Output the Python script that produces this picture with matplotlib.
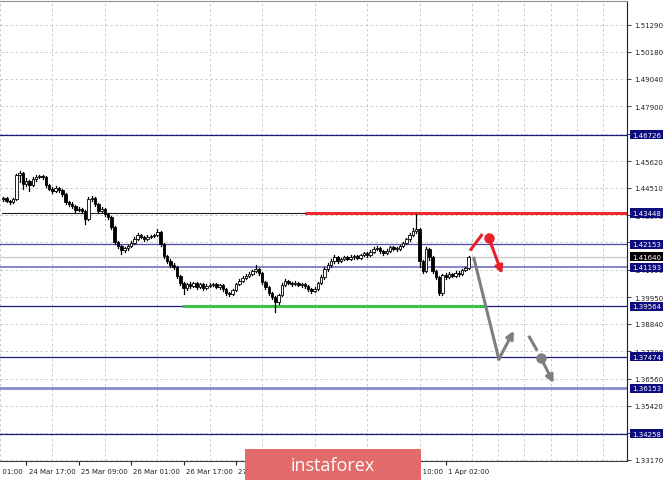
import matplotlib.pyplot as plt
from matplotlib.patches import Rectangle
import matplotlib.transforms as mtransforms

# H1 candles, bar 0 = 24 Mar 10:00 (open of each bar = close of the previous one)
first_open = 1.4402
closes = [1.4408, 1.4395, 1.4391, 1.4404, 1.4504, 1.4512, 1.4466, 1.4479, 1.4462, 1.4487,
          1.4495, 1.4499, 1.4495, 1.4462, 1.4446, 1.4437, 1.4450, 1.4441, 1.4425, 1.4391,
          1.4383, 1.4374, 1.4358, 1.4362, 1.4354, 1.4321, 1.4404, 1.4408, 1.4383, 1.4354,
          1.4362, 1.4341, 1.4329, 1.4287, 1.4225, 1.4208, 1.4191, 1.4199, 1.4208, 1.4220,
          1.4237, 1.4254, 1.4245, 1.4237, 1.4245, 1.4249, 1.4254, 1.4266, 1.4216, 1.4166,
          1.4145, 1.4129, 1.4120, 1.4083, 1.4054, 1.4033, 1.4050, 1.4041, 1.4054, 1.4037,
          1.4050, 1.4033, 1.4041, 1.4045, 1.4050, 1.4037, 1.4045, 1.4029, 1.4012, 1.4008,
          1.4025, 1.4050, 1.4062, 1.4075, 1.4083, 1.4091, 1.4104, 1.4112, 1.4095, 1.4058,
          1.4037, 1.4012, 1.3995, 1.3974, 1.4004, 1.4045, 1.4062, 1.4054, 1.4050, 1.4054,
          1.4045, 1.4050, 1.4041, 1.4029, 1.4020, 1.4029, 1.4054, 1.4079, 1.4112, 1.4129,
          1.4145, 1.4162, 1.4145, 1.4154, 1.4162, 1.4154, 1.4162, 1.4166, 1.4158, 1.4170,
          1.4179, 1.4170, 1.4183, 1.4196, 1.4200, 1.4187, 1.4179, 1.4187, 1.4204, 1.4196,
          1.4196, 1.4208, 1.4220, 1.4237, 1.4254, 1.4270, 1.4279, 1.4145, 1.4104, 1.4196,
          1.4162, 1.4104, 1.4079, 1.4012, 1.4087, 1.4079, 1.4091, 1.4083, 1.4095, 1.4091,
          1.4108, 1.4116, 1.4164]
highs = [1.4414, 1.4412, 1.4400, 1.4410, 1.4510, 1.4520, 1.4515, 1.4490, 1.4485, 1.4495,
         1.4502, 1.4506, 1.4504, 1.4500, 1.4468, 1.4452, 1.4458, 1.4456, 1.4446, 1.4430,
         1.4397, 1.4390, 1.4380, 1.4370, 1.4368, 1.4360, 1.4412, 1.4416, 1.4412, 1.4388,
         1.4371, 1.4367, 1.4347, 1.4333, 1.4292, 1.4230, 1.4214, 1.4206, 1.4214, 1.4227,
         1.4245, 1.4262, 1.4260, 1.4250, 1.4252, 1.4256, 1.4260, 1.4280, 1.4270, 1.4222,
         1.4172, 1.4152, 1.4136, 1.4125, 1.4088, 1.4060, 1.4056, 1.4058, 1.4060, 1.4060,
         1.4056, 1.4055, 1.4048, 1.4052, 1.4056, 1.4055, 1.4051, 1.4050, 1.4034, 1.4018,
         1.4031, 1.4056, 1.4069, 1.4082, 1.4090, 1.4098, 1.4110, 1.4128, 1.4118, 1.4100,
         1.4063, 1.4042, 1.4018, 1.4000, 1.4010, 1.4052, 1.4070, 1.4068, 1.4060, 1.4062,
         1.4060, 1.4056, 1.4055, 1.4046, 1.4034, 1.4036, 1.4060, 1.4086, 1.4120, 1.4138,
         1.4155, 1.4170, 1.4168, 1.4160, 1.4168, 1.4167, 1.4170, 1.4172, 1.4170, 1.4176,
         1.4185, 1.4184, 1.4190, 1.4202, 1.4208, 1.4205, 1.4192, 1.4194, 1.4210, 1.4210,
         1.4204, 1.4214, 1.4226, 1.4243, 1.4262, 1.4285, 1.4342, 1.4284, 1.4150, 1.4202,
         1.4200, 1.4166, 1.4110, 1.4084, 1.4093, 1.4095, 1.4098, 1.4097, 1.4102, 1.4102,
         1.4113, 1.4122, 1.4168]
lows = [1.4396, 1.4390, 1.4383, 1.4387, 1.4400, 1.4475, 1.4446, 1.4460, 1.4437, 1.4458,
        1.4480, 1.4490, 1.4488, 1.4455, 1.4440, 1.4430, 1.4432, 1.4435, 1.4418, 1.4385,
        1.4376, 1.4366, 1.4350, 1.4352, 1.4345, 1.4300, 1.4315, 1.4395, 1.4375, 1.4346,
        1.4348, 1.4335, 1.4320, 1.4280, 1.4216, 1.4200, 1.4175, 1.4185, 1.4192, 1.4202,
        1.4215, 1.4232, 1.4240, 1.4230, 1.4232, 1.4240, 1.4244, 1.4250, 1.4210, 1.4158,
        1.4138, 1.4122, 1.4112, 1.4075, 1.4045, 1.4008, 1.4025, 1.4035, 1.4036, 1.4030,
        1.4032, 1.4025, 1.4028, 1.4036, 1.4040, 1.4032, 1.4031, 1.4022, 1.4005, 1.4000,
        1.4002, 1.4020, 1.4045, 1.4057, 1.4070, 1.4078, 1.4086, 1.4099, 1.4088, 1.4050,
        1.4030, 1.4005, 1.3988, 1.3933, 1.3968, 1.3998, 1.4040, 1.4048, 1.4043, 1.4045,
        1.4040, 1.4038, 1.4035, 1.4022, 1.4012, 1.4015, 1.4024, 1.4048, 1.4072, 1.4105,
        1.4122, 1.4138, 1.4138, 1.4140, 1.4148, 1.4148, 1.4150, 1.4156, 1.4152, 1.4154,
        1.4165, 1.4164, 1.4166, 1.4178, 1.4190, 1.4180, 1.4172, 1.4174, 1.4182, 1.4190,
        1.4188, 1.4192, 1.4202, 1.4215, 1.4230, 1.4248, 1.4262, 1.4120, 1.4095, 1.4100,
        1.4150, 1.4095, 1.4070, 1.4004, 1.4004, 1.4072, 1.4074, 1.4078, 1.4078, 1.4085,
        1.4086, 1.4104, 1.4112]
opens = [first_open] + closes[:-1]

# price scale on the right
price_ticks = [1.51290, 1.50180, 1.49040, 1.47900, 1.46760, 1.45620, 1.44510, 1.43370,
               1.42230, 1.41090, 1.39950, 1.38840, 1.37700, 1.36560, 1.35420, 1.34310, 1.33170]

# time scale: bar index -> label
time_bars = [-9, 7, 23, 39, 55, 71, 87, 103, 119, 135]
time_labels = ['24 Mar 01:00', '24 Mar 17:00', '25 Mar 09:00', '26 Mar 01:00', '26 Mar 17:00',
               '27 Mar 09:00', '30 Mar 02:00', '30 Mar 18:00', '31 Mar 10:00', '1 Apr 02:00']

# horizontal levels
levels = [1.46726, 1.43448, 1.42153, 1.41193, 1.39564, 1.37474, 1.36153, 1.34258]
level_colors = ['#1a1a80', '#202020', '#4a4ab0', '#6464c0', '#1a1a80', '#1a1a80', '#8a8acc', '#1a1a80']
level_widths = [0.9, 0.8, 0.9, 1.1, 0.9, 0.9, 2.0, 0.9]
bid = 1.41640

# resistance (red) and support (green) segments: start bar, end bar, price
red_seg = [92.4, 192, 1.43448]
green_seg = [55.0, 146.5, 1.39564]

# drawn scenario arrows (bar index, price)
red_stroke_x = [142.4, 146.2]
red_stroke_y = [1.4189, 1.4258]
red_dot = [148.2, 1.4240]
red_arrow_end = [152.2, 1.4092]
gray_path_x = [143.6, 151.2]
gray_path_y = [1.4157, 1.3737]
gray_arrow_end = [155.8, 1.3855]
gray_dash_x = [160.3, 162.9]
gray_dash_y = [1.3834, 1.3772]
gray_dot = [164.1, 1.3740]
gray_dot_arrow_end = [167.9, 1.3637]

W, H = 665, 481
fig = plt.figure(figsize=(W / 100, H / 100), dpi=100)
ax = fig.add_axes([0, 1 - 462 / H, 627 / W, 460 / H])
ax.set_xlim(-0.3, 190.3)
ax.set_ylim(1.33123, 1.52290)

# grid
ax.set_yticks(price_ticks)
ax.set_yticklabels(['%.5f' % p for p in price_ticks])
ax.yaxis.tick_right()
ax.set_xticks(time_bars[1:])
ax.set_xticklabels([])
ax.set_xticks(range(-1, 191, 8), minor=True)
ax.tick_params(axis='y', direction='out', length=3, width=0.6, pad=2, labelsize=5, colors='#202020')
ax.tick_params(axis='x', which='major', direction='out', length=3, width=0.8, colors='#202020')
ax.tick_params(axis='x', which='minor', length=0)
ax.grid(True, which='both', color='#c4c4c4', linestyle=(0, (3, 3)), linewidth=0.6)
ax.grid(False, axis='x', which='major')
ax.set_axisbelow(True)
ax.spines['left'].set_visible(False)
ax.spines['top'].set_color('#909090')
ax.spines['right'].set_color('#202020')
ax.spines['bottom'].set_color('#404040')

# time labels
xtr = mtransforms.blended_transform_factory(ax.transData, ax.transAxes)
for b, lab in zip(time_bars, time_labels):
    ax.text(b + 0.7, -0.022, lab, transform=xtr, ha='left', va='center', fontsize=5,
            color='#202020', clip_on=False)

# levels
ax.axhline(bid, color='#c8c8c8', linewidth=0.9, zorder=2)
for lv, c, lw in zip(levels, level_colors, level_widths):
    if lv == red_seg[2]:
        ax.plot([-0.3, red_seg[0]], [lv, lv], color=c, linewidth=lw, zorder=2)
    else:
        ax.axhline(lv, color=c, linewidth=lw, zorder=2)
ax.plot(red_seg[:2], [red_seg[2]] * 2, color='#ee2a2a', linewidth=2.2, zorder=3)
ax.plot(green_seg[:2], [green_seg[2]] * 2, color='#3cc04a', linewidth=2.2, zorder=3)

# candles
for i in range(len(closes)):
    o, c = opens[i], closes[i]
    ax.plot([i, i], [lows[i], highs[i]], color='black', linewidth=0.9, zorder=4)
    lo, hi = min(o, c), max(o, c)
    if hi - lo < 0.0003:
        hi = lo + 0.0003
    face = 'white' if c >= o else 'black'
    ax.add_patch(Rectangle((i - 0.38, lo), 0.76, hi - lo, facecolor=face,
                           edgecolor='black', linewidth=0.6, zorder=5))

# scenario drawings
red = '#e8202a'
gray = '#7f7f7f'
ax.plot(red_stroke_x, red_stroke_y, color=red, linewidth=2.2, zorder=6, solid_capstyle='butt')
ax.plot(*red_dot, 'o', color=red, markersize=6.5, zorder=6)
ax.annotate('', xy=red_arrow_end, xytext=red_dot,
            arrowprops=dict(arrowstyle='-|>', color=red, lw=2.2, mutation_scale=11,
                            shrinkA=0, shrinkB=0), zorder=6)
ax.plot(gray_path_x, gray_path_y, color=gray, linewidth=2.2, zorder=6)
ax.annotate('', xy=gray_arrow_end, xytext=(gray_path_x[1], gray_path_y[1]),
            arrowprops=dict(arrowstyle='-|>', color=gray, lw=2.2, mutation_scale=11,
                            shrinkA=0, shrinkB=0), zorder=6)
ax.plot(gray_dash_x, gray_dash_y, color=gray, linewidth=2.2, zorder=6, solid_capstyle='butt')
ax.plot(*gray_dot, 'o', color=gray, markersize=6.5, zorder=6)
ax.annotate('', xy=gray_dot_arrow_end, xytext=gray_dot,
            arrowprops=dict(arrowstyle='-|>', color=gray, lw=2.2, mutation_scale=11,
                            shrinkA=0, shrinkB=0), zorder=6)

# price boxes on the right scale
ytr = mtransforms.blended_transform_factory(ax.transAxes, ax.transData)
for lv in levels:
    ax.text(632 / 627, lv, '%.5f' % lv, transform=ytr, ha='left', va='center', fontsize=5,
            color='white', clip_on=False, zorder=10,
            bbox=dict(boxstyle='square,pad=0.25', facecolor='#0c0c7c', edgecolor='none'))
ax.text(632 / 627, bid, '%.5f' % bid, transform=ytr, ha='left', va='center', fontsize=5,
        color='white', clip_on=False, zorder=10,
        bbox=dict(boxstyle='square,pad=0.25', facecolor='black', edgecolor='none'))

# watermark
fig.patches.append(Rectangle((245 / W, 0), 176 / W, 31 / H, transform=fig.transFigure,
                             facecolor='#e36a6a', edgecolor='none', zorder=20))
fig.text(333 / W, 15 / H, 'instaforex', ha='center', va='center', fontsize=13,
         color='white', family='Open Sans', zorder=21)

fig.savefig('out.png', dpi=100)
